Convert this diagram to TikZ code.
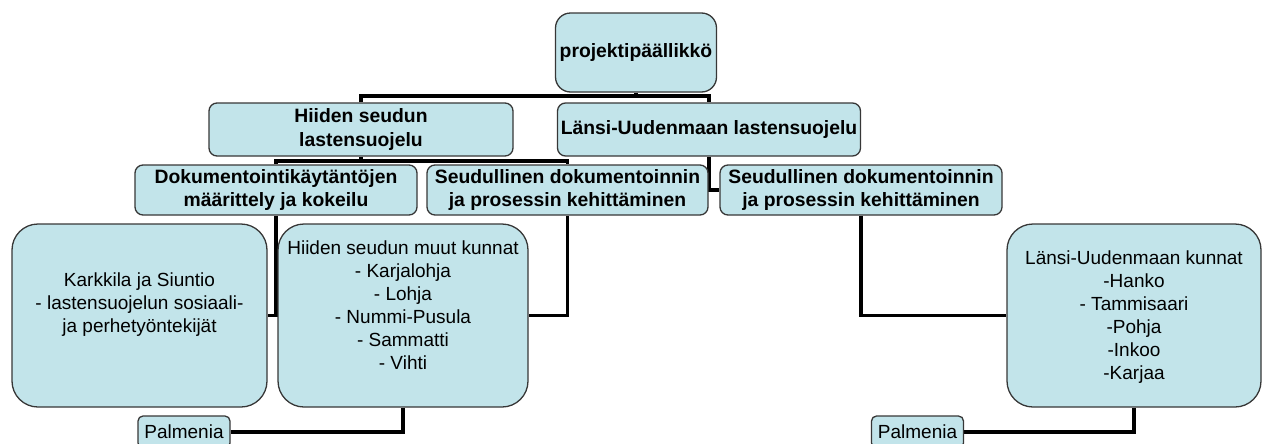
\documentclass[tikz,border=0pt]{standalone}
\usepackage{fontspec}
\setmainfont{Liberation Sans}
\usetikzlibrary{backgrounds}
\newdimen\pxu \pxu=0.75pt
\definecolor{boxfill}{RGB}{194,228,234}
\definecolor{boxline}{RGB}{55,55,55}
\begin{document}
\begin{tikzpicture}[x=0.75pt,y=-0.75pt,
  box/.style={draw=boxline, line width=1.3\pxu, fill=boxfill, inner sep=0pt, align=center,
    font=\bfseries\fontsize{14.5pt}{17.5pt}\selectfont},
  smallbox/.style={box, rounded corners=8\pxu},
  bigbox/.style={box, rounded corners=26\pxu},
  palmbox/.style={box, rounded corners=5\pxu, minimum width=92\pxu, minimum height=32\pxu,
    font=\fontsize{14.25pt}{17.25pt}\selectfont},
  txt/.style={align=center, inner sep=0pt, font=\fontsize{14.25pt}{17.25pt}\selectfont},
  conn/.style={line width=3.5\pxu, black}
]
\useasboundingbox (0,0) rectangle (1262,443);
\clip (0,0) rectangle (1262,443);

% level 0
\node[box, rounded corners=15\pxu, minimum width=161\pxu, minimum height=79\pxu] (pp) at (636,52.5) {projektipäällikkö};
% level 1
\node[smallbox, minimum width=304\pxu, minimum height=53\pxu] (hiiden) at (361,129.5) {Hiiden seudun\\lastensuojelu};
\node[smallbox, minimum width=303\pxu, minimum height=53\pxu] (lansi) at (709,129.5) {Länsi-Uudenmaan lastensuojelu};
% level 2
\node[smallbox, minimum width=282\pxu, minimum height=50\pxu] (dok) at (276,190) {Dokumentointikäytäntöjen\\määrittely ja kokeilu};
\node[smallbox, minimum width=281\pxu, minimum height=50\pxu] (seud1) at (567.5,190) {Seudullinen dokumentoinnin\\ja prosessin kehittäminen};
\node[smallbox, minimum width=282\pxu, minimum height=50\pxu] (seud2) at (861,190) {Seudullinen dokumentoinnin\\ja prosessin kehittäminen};
% level 3
\node[bigbox, minimum width=255\pxu, minimum height=183\pxu] (kark) at (139.5,315.5) {};
\node[txt] (karkT) at (139.5,305) {Karkkila ja Siuntio\\- lastensuojelun sosiaali-\\ja perhetyöntekijät};
\node[bigbox, minimum width=250\pxu, minimum height=183\pxu] (muut) at (403,315.5) {};
\node[txt] (muutT) at (403,305) {Hiiden seudun muut kunnat\\- Karjalohja\\- Lohja\\- Nummi-Pusula\\- Sammatti\\- Vihti};
\node[bigbox, minimum width=254\pxu, minimum height=183\pxu] (lkun) at (1134,315.5) {};
\node[txt] (lkunT) at (1134,317) {Länsi-Uudenmaan kunnat\\-Hanko\\- Tammisaari\\-Pohja\\-Inkoo\\-Karjaa};
% level 4
\node[palmbox] (palm1) at (184,432) {Palmenia};
\node[palmbox] (palm2) at (917.5,432) {Palmenia};

\coordinate (bus1) at (0,96);
\coordinate (bus2) at (0,161);

\begin{scope}[on background layer]
\draw[conn] (pp.south) -- (pp.south |- bus1);
\draw[conn] (hiiden.north) -- (hiiden.north |- bus1) -- (lansi.north |- bus1) -- (lansi.north);
\draw[conn] (hiiden.south) -- (hiiden.south |- bus2);
\draw[conn] (dok.north) -- (dok.north |- bus2) -- (seud1.north |- bus2) -- (seud1.north);
\draw[conn] (lansi.south) |- (seud2.west);
\draw[conn] (dok.south) |- (kark.east);
\draw[conn] (seud1.south) |- (muut.east);
\draw[conn] (seud2.south) |- (lkun.west);
\draw[conn] (muut.south) |- (palm1.east);
\draw[conn] (lkun.south) |- (palm2.east);
\end{scope}
\end{tikzpicture}
\end{document}
